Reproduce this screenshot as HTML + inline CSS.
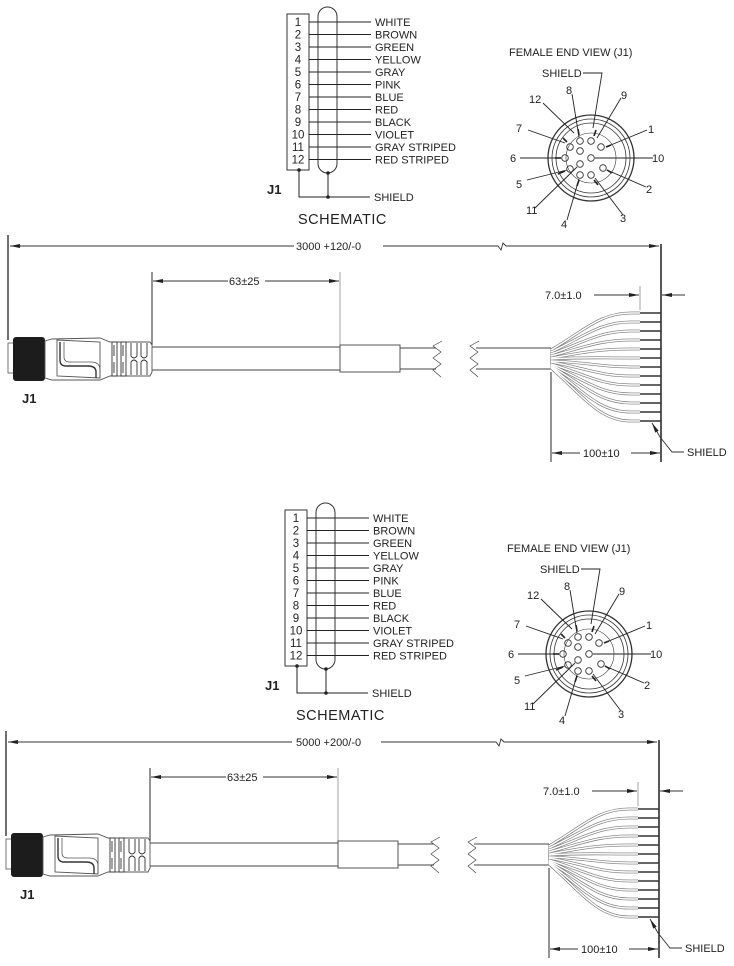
<!DOCTYPE html>
<html><head><meta charset="utf-8"><style>
html,body{margin:0;padding:0;background:#fff;}
svg{display:block;font-family:"Liberation Sans",sans-serif;}
text{fill:#222;}
</style></head><body>
<svg width="734" height="966" viewBox="0 0 734 966" xmlns="http://www.w3.org/2000/svg">
<defs>
<marker id="ar" viewBox="0 0 10 6" refX="10" refY="3" markerWidth="10" markerHeight="6" orient="auto-start-reverse" markerUnits="userSpaceOnUse"><path d="M0,1 L10,3 L0,5 Z" fill="#222"/></marker>
<g id="sheet">
  <rect x="287" y="14" width="22" height="156" fill="none" stroke="#333" stroke-width="1"/>
  <rect x="318" y="7" width="19" height="166" rx="9.5" fill="none" stroke="#333" stroke-width="1"/>
  <g stroke="#222" stroke-width="1">
    <line x1="309" y1="22" x2="371" y2="22"/><line x1="309" y1="34.5" x2="371" y2="34.5"/><line x1="309" y1="47" x2="371" y2="47"/><line x1="309" y1="59.5" x2="371" y2="59.5"/><line x1="309" y1="72" x2="371" y2="72"/><line x1="309" y1="84.5" x2="371" y2="84.5"/><line x1="309" y1="97" x2="371" y2="97"/><line x1="309" y1="109.5" x2="371" y2="109.5"/><line x1="309" y1="122" x2="371" y2="122"/><line x1="309" y1="134.5" x2="371" y2="134.5"/><line x1="309" y1="147" x2="371" y2="147"/><line x1="309" y1="159.5" x2="371" y2="159.5"/>
    <polyline points="299,170 299,197 370,197" fill="none"/>
    <line x1="328" y1="173" x2="328" y2="197"/>
  </g>
  <circle cx="299" cy="170" r="1.8" fill="#222"/><circle cx="328" cy="173" r="1.8" fill="#222"/><circle cx="328" cy="197" r="1.8" fill="#222"/>
  <g font-size="11.5" text-anchor="middle">
    <text x="298" y="26">1</text><text x="298" y="38.5">2</text><text x="298" y="51">3</text><text x="298" y="63.5">4</text><text x="298" y="76">5</text><text x="298" y="88.5">6</text><text x="298" y="101">7</text><text x="298" y="113.5">8</text><text x="298" y="126">9</text><text x="298" y="138.5">10</text><text x="298" y="151">11</text><text x="298" y="163.5">12</text>
  </g>
  <g font-size="11">
    <text x="375" y="26">WHITE</text><text x="375" y="38.5">BROWN</text><text x="375" y="51">GREEN</text><text x="375" y="63.5">YELLOW</text><text x="375" y="76">GRAY</text><text x="375" y="88.5">PINK</text><text x="375" y="101">BLUE</text><text x="375" y="113.5">RED</text><text x="375" y="126">BLACK</text><text x="375" y="138.5">VIOLET</text><text x="375" y="151">GRAY STRIPED</text><text x="375" y="163.5">RED STRIPED</text>
    <text x="374" y="201">SHIELD</text>
  </g>
  <text x="267" y="194" font-size="13" font-weight="bold">J1</text>
  <text x="298" y="224" font-size="14.5" letter-spacing="0.5">SCHEMATIC</text>

  <text x="509" y="56" font-size="11">FEMALE END VIEW (J1)</text>
  <g fill="none" stroke="#333">
    <circle cx="591" cy="158" r="43" stroke-width="1.3"/>
    <circle cx="591" cy="158" r="39" stroke-width="0.8"/>
    <circle cx="591" cy="158" r="35" stroke-width="0.8"/>
    <circle cx="591" cy="158" r="25" stroke-width="0.6"/>
  </g>
  <g fill="none" stroke="#333" stroke-width="0.9">
    <circle cx="580" cy="141" r="3.3"/><circle cx="591" cy="141" r="3.3"/><circle cx="601" cy="147" r="3.3"/>
    <circle cx="570" cy="147" r="3.3"/><circle cx="565" cy="158" r="3.3"/><circle cx="570" cy="169" r="3.3"/>
    <circle cx="580" cy="175" r="3.3"/><circle cx="591" cy="175" r="3.3"/><circle cx="603" cy="168" r="3.3"/>
    <circle cx="580" cy="151" r="3.3"/><circle cx="591" cy="158" r="3.3"/><circle cx="580" cy="164" r="3.3"/>
  </g>
  <g stroke="#222" stroke-width="0.9" fill="none">
    <polyline points="583,73 602,73 593,128"/>
    <line x1="572" y1="94" x2="579" y2="137"/>
    <line x1="621" y1="98" x2="597" y2="138"/>
    <line x1="543" y1="103" x2="574" y2="133"/>
    <line x1="528" y1="130" x2="565" y2="143"/>
    <line x1="647" y1="130" x2="606" y2="147"/>
    <line x1="520" y1="158" x2="561" y2="158"/>
    <line x1="653" y1="158" x2="595" y2="158"/>
    <line x1="527" y1="180" x2="567" y2="170"/>
    <line x1="646" y1="187" x2="607" y2="170"/>
    <line x1="535" y1="208" x2="577" y2="167"/>
    <line x1="567" y1="220" x2="579" y2="179"/>
    <line x1="623" y1="215" x2="595" y2="178"/>
  </g>
  <g stroke="#222" stroke-width="1.6">
    <line x1="555" y1="158" x2="561" y2="158"/><line x1="578" y1="129" x2="579" y2="135"/><line x1="596" y1="130" x2="594" y2="136"/>
    <line x1="563" y1="138" x2="567" y2="142"/><line x1="611" y1="145" x2="606" y2="147"/><line x1="558" y1="174" x2="565" y2="171"/>
    <line x1="577" y1="186" x2="579" y2="180"/><line x1="598" y1="185" x2="594" y2="180"/><line x1="612" y1="173" x2="607" y2="170"/>
  </g>
  <g font-size="11">
    <text x="542" y="77">SHIELD</text>
    <text x="566" y="94">8</text><text x="621" y="99">9</text><text x="529" y="103">12</text><text x="516" y="132">7</text>
    <text x="648" y="133">1</text><text x="510" y="162">6</text><text x="652" y="162">10</text><text x="516" y="188">5</text>
    <text x="646" y="193">2</text><text x="526" y="214">11</text><text x="561" y="228">4</text><text x="620" y="222">3</text>
  </g>

  <g stroke="#333" stroke-width="0.9" fill="none">
    <line x1="8" y1="235" x2="8" y2="340" stroke="#111" stroke-width="1.2"/>
    <line x1="661" y1="244" x2="661" y2="462" stroke="#111" stroke-width="1.4"/>
    <line x1="10" y1="246" x2="294" y2="246" marker-start="url(#ar)"/>
    <polyline points="383,246 498,246 501,250 503,243 506,246 659,246" marker-end="url(#ar)"/>
    <line x1="152" y1="272" x2="152" y2="345" stroke="#111"/>
    <line x1="340" y1="272" x2="340" y2="345" stroke="#999"/>
    <line x1="153" y1="281" x2="228" y2="281" marker-start="url(#ar)"/>
    <line x1="265" y1="281" x2="339" y2="281" marker-end="url(#ar)"/>
  </g>
  <text x="296" y="250" font-size="11">3000 +120/-0</text>
  <text x="229" y="285" font-size="11">63±25</text>

  <g stroke="#444" stroke-width="0.9" fill="none">
    <line x1="152" y1="347" x2="340" y2="347"/><line x1="152" y1="370" x2="340" y2="370"/>
    <rect x="340" y="345" width="60" height="27" fill="#fff"/>
    <line x1="400" y1="348" x2="436" y2="348"/><line x1="400" y1="369" x2="436" y2="369"/>
    <polyline points="442,341 433,346 441,352 433,358 441,364 433,370 441,377" stroke-width="0.7"/>
    <polyline points="479,341 470,346 478,352 470,358 478,364 470,370 478,377" stroke-width="0.7"/>
    <line x1="476" y1="348" x2="551" y2="348"/><line x1="476" y1="369" x2="551" y2="369"/>
    <line x1="551" y1="348" x2="551" y2="369"/>
    <line x1="551" y1="372" x2="551" y2="462" stroke="#111"/>
  </g>
  <g fill="none" stroke-linecap="butt">
    <g stroke="#777" stroke-width="2.8">
      <path d="M551,350 C585,330 600,313 631,313 L640,313"/>
      <path d="M551,352 C585,336 600,322 631,322 L640,322"/>
      <path d="M551,354 C585,342 600,331 631,331 L640,331"/>
      <path d="M551,356 C585,347 600,340 631,340 L640,340"/>
      <path d="M551,358 C585,352 600,349 631,349 L640,349"/>
      <path d="M551,359 C585,357 600,358 631,358 L640,358"/>
      <path d="M551,361 C585,362 600,367 631,367 L640,367"/>
      <path d="M551,362 C585,368 600,376 631,376 L640,376"/>
      <path d="M551,364 C585,374 600,385 631,385 L640,385"/>
      <path d="M551,365 C585,380 600,394 631,394 L640,394"/>
      <path d="M551,366 C585,386 600,403 631,403 L640,403"/>
      <path d="M551,367 C585,393 600,412 631,412 L640,412"/>
      <path d="M551,368 C585,398 600,421 631,421 L640,421"/>
    </g>
    <g stroke="#fff" stroke-width="1.5">
      <path d="M551,350 C585,330 600,313 631,313 L640,313"/>
      <path d="M551,352 C585,336 600,322 631,322 L640,322"/>
      <path d="M551,354 C585,342 600,331 631,331 L640,331"/>
      <path d="M551,356 C585,347 600,340 631,340 L640,340"/>
      <path d="M551,358 C585,352 600,349 631,349 L640,349"/>
      <path d="M551,359 C585,357 600,358 631,358 L640,358"/>
      <path d="M551,361 C585,362 600,367 631,367 L640,367"/>
      <path d="M551,362 C585,368 600,376 631,376 L640,376"/>
      <path d="M551,364 C585,374 600,385 631,385 L640,385"/>
      <path d="M551,365 C585,380 600,394 631,394 L640,394"/>
      <path d="M551,366 C585,386 600,403 631,403 L640,403"/>
      <path d="M551,367 C585,393 600,412 631,412 L640,412"/>
      <path d="M551,368 C585,398 600,421 631,421 L640,421"/>
    </g>
    <g stroke="#333" stroke-width="1.4">
      <path d="M640,313H661M640,322H661M640,331H661M640,340H661M640,349H661M640,358H661M640,367H661M640,376H661M640,385H661M640,394H661M640,403H661M640,412H661M640,421H661"/>
    </g>
  </g>
  <g stroke="#333" stroke-width="0.9" fill="none">
    <line x1="640" y1="286" x2="640" y2="310" stroke="#999"/>
    <line x1="594" y1="295" x2="639" y2="295" marker-end="url(#ar)"/>
    <line x1="685" y1="295" x2="662" y2="295" marker-end="url(#ar)"/>
    <line x1="552" y1="453" x2="580" y2="453" marker-start="url(#ar)"/>
    <line x1="631" y1="453" x2="660" y2="453" marker-end="url(#ar)"/>
    <polyline points="684,452 672,452 660,437 652,423" marker-end="url(#ar)"/>
  </g>
  <text x="545" y="299" font-size="11">7.0±1.0</text>
  <text x="583" y="457" font-size="11">100±10</text>
  <text x="687" y="456" font-size="11">SHIELD</text>

  <rect x="8" y="343" width="6" height="30" fill="#fff" stroke="#555" stroke-width="0.8"/>
  <rect x="13" y="337" width="32" height="44" rx="3" fill="#1c1c1c"/>
  <g fill="#fff" stroke="#555" stroke-width="0.9">
    <path d="M45,341 L52,339 L100,338 L110,342 L150,342 L152,345 L152,372 L150,376 L110,376 L100,380 L52,380 L45,378 Z"/>
    <path d="M57,340 L57,376 L100,378 L100,342 Z" fill="none"/>
    <path d="M60,342 L60,360 Q60,366 66,366 L88,366 Q96,366 96,372 L96,378" fill="none" stroke-width="1.4" stroke="#333"/>
    <path d="M64,342 L64,357 Q64,362 70,362 L91,362 Q100,362 100,370 L100,378" fill="none" stroke-width="0.8"/>
    <rect x="112" y="342" width="5" height="34" stroke="#333"/>
    <rect x="121" y="342" width="5" height="34" stroke="#333"/>
    <path d="M114,345 L114,356 M114,362 L114,373 M123,345 L123,356 M123,362 L123,373 M131,343 L131,356 Q134,360 137,356 L137,343 M131,375 L131,362 Q134,358 137,362 L137,375 M141,343 L141,356 Q144,360 147,356 L147,343 M141,375 L141,362 Q144,358 147,362 L147,375" fill="none" stroke="#333"/>
  </g>
  <text x="22" y="403" font-size="13" font-weight="bold">J1</text>
</g>
</defs>
<rect width="734" height="966" fill="#fff"/>
<use href="#sheet"/>
<g transform="translate(-2,496)">
  <use href="#sheet"/>
  <rect x="294" y="238" width="88" height="16" fill="#fff"/>
  <text x="298" y="250" font-size="11" fill="#222">5000 +200/-0</text>
</g>
</svg>
</body></html>
